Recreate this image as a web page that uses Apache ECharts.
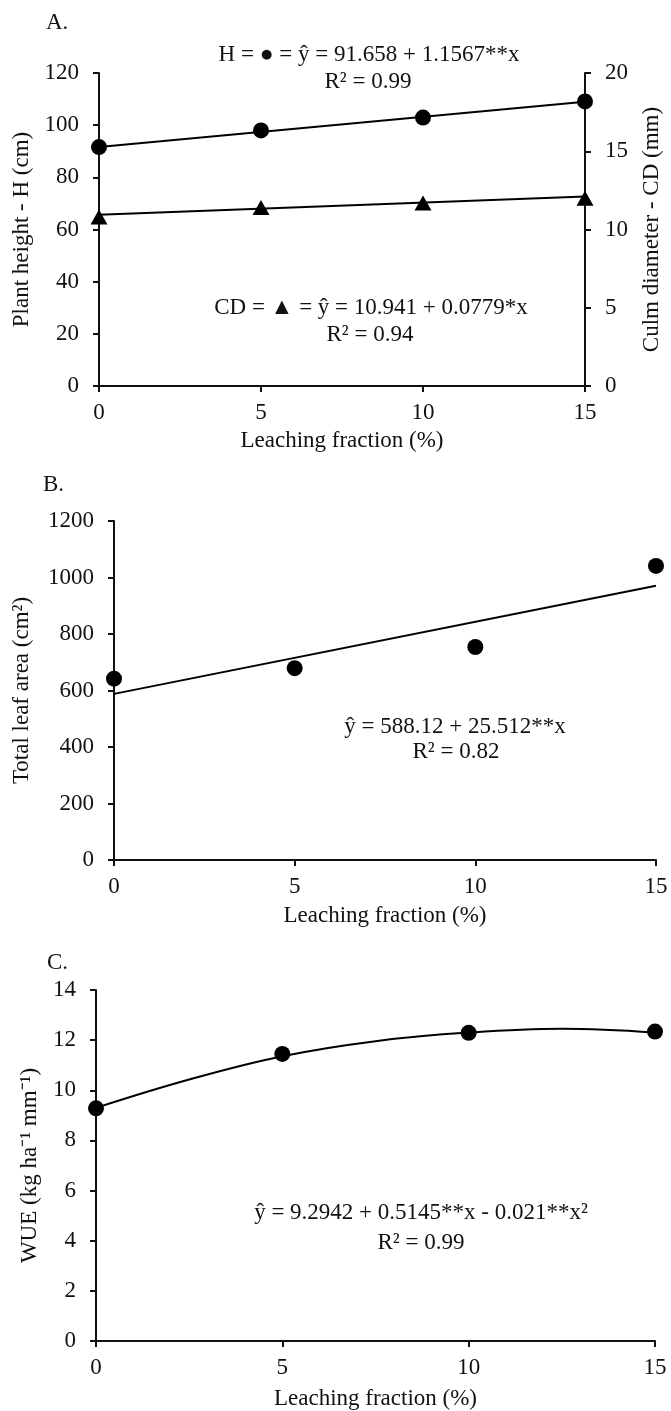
<!DOCTYPE html>
<html>
<head>
<meta charset="utf-8">
<script src="https://cdn.jsdelivr.net/npm/echarts@6/dist/echarts.min.js"></script>
<style>
  html, body { margin: 0; padding: 0; background: #fff; }
  #chart { width: 671px; height: 1411px; }
</style>
</head>
<body>
<div id="chart"></div>
<script>
// 数据：淋洗分数 (%)
const leaching = [0, 5, 10, 15];
const fitEnds = [0, 15];

// A. 株高 H (cm) 与 茎粗 CD (mm)
const plantHeight = [91.6, 98.0, 102.9, 109.1];
const plantHeightFit = [91.66, 109.0];
const culmDiameter = [10.8, 11.4, 11.7, 12.0];
const culmDiameterFit = [10.94, 12.11];

// B. 总叶面积 (cm²)
const leafArea = [642, 679, 754, 1041];
const leafAreaFit = [588, 971];

// C. WUE，曲线上读取的点
const wue = [9.28, 11.45, 12.29, 12.34];
const wueCurveX = [0, 2.5, 5, 7.5, 10, 12.5, 15];
const wueCurve = [9.3, 10.43, 11.36, 11.96, 12.3, 12.45, 12.3];

const FONT = 'Liberation Serif';
const FS = 23;
const INK = '#111';

const pairs = (xs, ys) => xs.map((x, i) => [x, ys[i]]);

// 坐标轴公共样式
function axisStyle(extra) {
    return Object.assign({
        type: 'value',
        axisLine: { show: true, onZero: false, lineStyle: { color: INK, width: 2 } },
        axisTick: { show: true, inside: false, length: 6, lineStyle: { color: INK, width: 2 } },
        axisLabel: { color: INK, fontFamily: FONT, fontSize: FS, margin: 20, formatter: v => String(v) },
        splitLine: { show: false },
        nameLocation: 'middle',
        nameTextStyle: { color: INK, fontFamily: FONT, fontSize: FS }
    }, extra);
}

function xAxisFor(gridIndex, gap) {
    return axisStyle({
        gridIndex: gridIndex, min: 0, max: 15, interval: 5,
        name: 'Leaching fraction (%)', nameGap: gap,
        axisLabel: { color: INK, fontFamily: FONT, fontSize: FS, margin: 15 }
    });
}

function label(text, x, y, align) {
    return {
        type: 'text', x: x, y: y,
        style: { text: text, fill: INK, font: FS + 'px "' + FONT + '"', textAlign: align || 'center', textVerticalAlign: 'middle' }
    };
}

const dot = { color: '#000', opacity: 1 };
const fitLine = { color: '#000', width: 2 };

const chart = echarts.init(document.getElementById('chart'), null, { renderer: 'canvas' });

chart.setOption({
    animation: false,
    backgroundColor: '#fff',
    grid: [
        { left: 99, top: 73, width: 486, height: 313 },
        { left: 114, top: 521, width: 542, height: 339 },
        { left: 96, top: 990, width: 559, height: 351 }
    ],
    xAxis: [xAxisFor(0, 43), xAxisFor(1, 44), xAxisFor(2, 46)],
    yAxis: [
        axisStyle({ gridIndex: 0, min: 0, max: 120, interval: 20, name: 'Plant height - H (cm)', nameGap: 65, nameRotate: 90 }),
        axisStyle({ gridIndex: 0, position: 'right', min: 0, max: 20, interval: 5, name: 'Culm diameter - CD (mm)', nameGap: 55, nameRotate: 90 }),
        axisStyle({ gridIndex: 1, min: 0, max: 1200, interval: 200, name: 'Total leaf area (cm²)', nameGap: 81, nameRotate: 90 }),
        axisStyle({ gridIndex: 2, min: 0, max: 14, interval: 2, name: 'WUE (kg ha⁻¹ mm⁻¹)', nameGap: 55, nameRotate: 90 })
    ],
    series: [
        { type: 'line', xAxisIndex: 0, yAxisIndex: 0, data: pairs(fitEnds, plantHeightFit), showSymbol: false, lineStyle: fitLine, clip: false },
        { type: 'scatter', xAxisIndex: 0, yAxisIndex: 0, data: pairs(leaching, plantHeight), symbol: 'circle', symbolSize: 16, itemStyle: dot, clip: false },
        { type: 'line', xAxisIndex: 0, yAxisIndex: 1, data: pairs(fitEnds, culmDiameterFit), showSymbol: false, lineStyle: fitLine, clip: false },
        { type: 'scatter', xAxisIndex: 0, yAxisIndex: 1, data: pairs(leaching, culmDiameter), symbol: 'triangle', symbolSize: [17, 15], itemStyle: dot, clip: false },

        { type: 'line', xAxisIndex: 1, yAxisIndex: 2, data: pairs(fitEnds, leafAreaFit), showSymbol: false, lineStyle: fitLine, clip: false },
        { type: 'scatter', xAxisIndex: 1, yAxisIndex: 2, data: pairs(leaching, leafArea), symbol: 'circle', symbolSize: 16, itemStyle: dot, clip: false },

        { type: 'line', xAxisIndex: 2, yAxisIndex: 3, data: pairs(wueCurveX, wueCurve), smooth: 0.4, showSymbol: false, lineStyle: fitLine, clip: false },
        { type: 'scatter', xAxisIndex: 2, yAxisIndex: 3, data: pairs(leaching, wue), symbol: 'circle', symbolSize: 16, itemStyle: dot, clip: false }
    ],
    graphic: [
        label('A.', 46, 23, 'left'),
        label('H = ● = ŷ = 91.658 + 1.1567**x', 369, 55),
        label('R² = 0.99', 368, 82),
        label('CD = ▲ = ŷ = 10.941 + 0.0779*x', 371, 308),
        label('R² = 0.94', 370, 335),

        label('B.', 43, 485, 'left'),
        label('ŷ = 588.12 + 25.512**x', 455, 727),
        label('R² = 0.82', 456, 752),

        label('C.', 47, 963, 'left'),
        label('ŷ = 9.2942 + 0.5145**x - 0.021**x²', 421, 1213),
        label('R² = 0.99', 421, 1243)
    ]
});
</script>
</body>
</html>
